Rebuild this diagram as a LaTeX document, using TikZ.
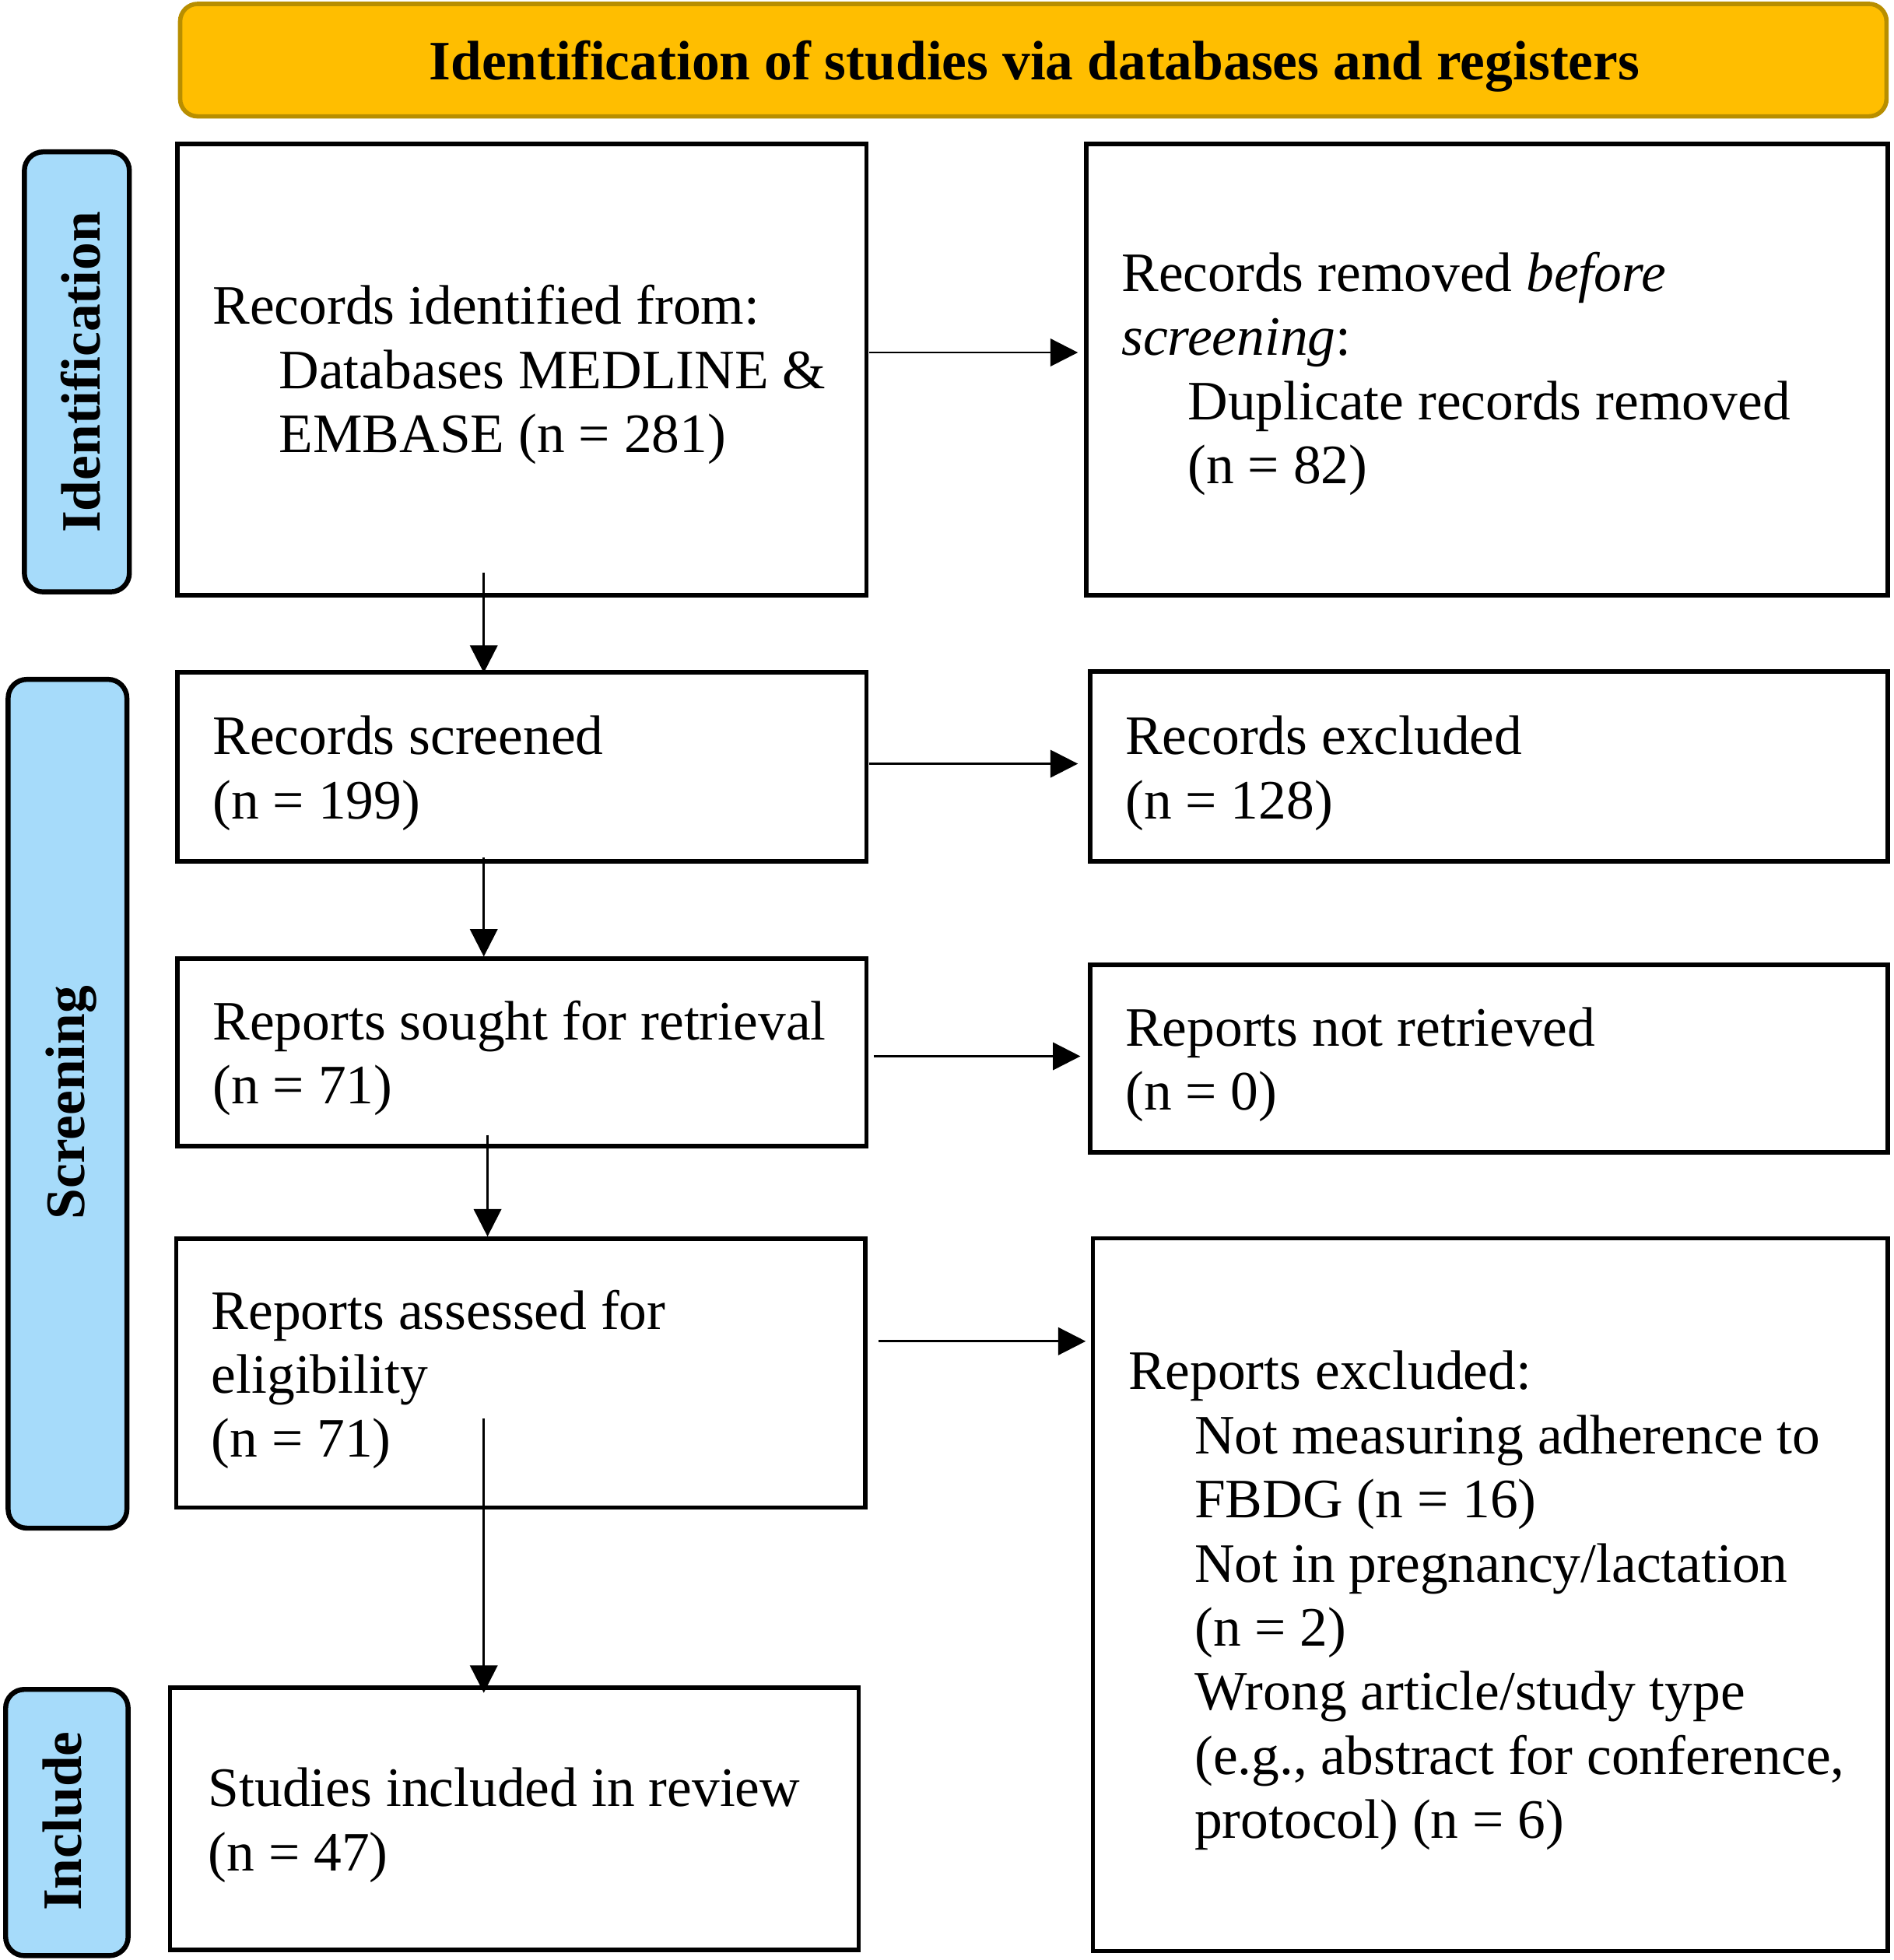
\documentclass[tikz,border=0pt]{standalone}
\usepackage{fontspec}
\setmainfont{Liberation Serif}
\usetikzlibrary{arrows.meta,calc}
\definecolor{gold}{RGB}{255,190,0}
\definecolor{goldline}{RGB}{184,142,0}
\definecolor{sideblue}{RGB}{166,219,250}
\begin{document}
\begin{tikzpicture}[x=1pt,y=-1pt,
  box/.style={draw=black,line width=3.5pt,inner sep=0pt,fill=white},
  txt/.style={anchor=base west,align=left,inner sep=0pt,font=\fontsize{44.5pt}{51.3pt}\selectfont},
  side/.style={draw=black,line width=4pt,fill=sideblue,rounded corners=15pt,inner sep=0pt},
  sidetxt/.style={rotate=90,anchor=base,inner sep=0pt,font=\fontsize{44.5pt}{51.3pt}\selectfont\bfseries},
  titlebox/.style={draw=goldline,line width=3.5pt,fill=gold,rounded corners=14pt,inner sep=0pt},
  arr/.style={line width=1.7pt,-{Triangle[length=22pt,width=22pt]}}]
\useasboundingbox (0,0) rectangle (1514.5,1568);

% title
\node[titlebox,minimum width=1365pt,minimum height=90pt] (title) at (826.6,48.1) {};
\node[anchor=base,inner sep=0pt,font=\fontsize{44.5pt}{51.3pt}\selectfont\bfseries] (ttitle) at (827.5,63.5) {Identification of studies via databases and registers};

% side labels
\node[side,minimum width=84pt,minimum height=352pt] (L1) at (61.5,297.5) {};
\node[sidetxt] (L1t) at (79.7,297.8) {Identification};
\node[side,minimum width=95pt,minimum height=679pt] (L2) at (54,883) {};
\node[sidetxt] (L2t) at (67.6,882) {Screening};
\node[side,minimum width=98pt,minimum height=213pt] (L3) at (53.5,1458) {};
\node[sidetxt] (L3t) at (65.2,1457) {Include};

% boxes
\node[box,minimum width=551pt,minimum height=361pt] (b1) at (417.5,295.5) {};
\node[box,minimum width=641pt,minimum height=361pt] (b2) at (1189.5,295.5) {};
\node[box,minimum width=551pt,minimum height=151pt] (b3) at (417.5,613.5) {};
\node[box,minimum width=638pt,minimum height=152pt] (b4) at (1191,613) {};
\node[box,minimum width=551pt,minimum height=150pt] (b5) at (417.5,842) {};
\node[box,minimum width=638pt,minimum height=150pt] (b6) at (1191,847) {};
\node[box,minimum width=551pt,minimum height=215pt] (b7) at (416.5,1098.5) {};
\node[box,minimum width=636pt,minimum height=570pt] (b8) at (1192.25,1275.75) {};
\node[box,minimum width=551pt,minimum height=210pt] (b9) at (411.5,1455) {};

% texts (anchored at the baseline of the last line)
\node[txt] (t1) at (170,362) {Records identified from:\\\hspace*{53pt}Databases MEDLINE \&\\\hspace*{53pt}EMBASE (n = 281)};
\node[txt] (t2) at (897,387) {Records removed \textit{before}\\\textit{screening}:\\\hspace*{53pt}Duplicate records removed\\\hspace*{53pt}(n = 82)};
\node[txt] (t3) at (170,655) {Records screened\\(n = 199)};
\node[txt] (t4) at (900,655) {Records excluded\\(n = 128)};
\node[txt] (t5) at (170,883) {Reports sought for retrieval\\(n = 71)};
\node[txt] (t6) at (900,888) {Reports not retrieved\\(n = 0)};
\node[txt] (t7) at (169,1165.8) {Reports assessed for\\eligibility\\(n = 71)};
\node[txt] (t8) at (902.4,1470.7) {Reports excluded:\\\hspace*{53pt}Not measuring adherence to\\\hspace*{53pt}FBDG (n = 16)\\\hspace*{53pt}Not in pregnancy/lactation\\\hspace*{53pt}(n = 2)\\\hspace*{53pt}Wrong article/study type\\\hspace*{53pt}(e.g., abstract for conference,\\\hspace*{53pt}protocol) (n = 6)};
\node[txt] (t9) at (166.5,1496.6) {Studies included in review\\(n = 47)};

% connectors
\coordinate (s1) at (387,458);
\draw[arr] (s1) -- ($(s1 |- b3.north)+(0,2)$);
\coordinate (s2) at (695,282);
\draw[arr] (s2) -- ($(s2 -| b2.west)+(-5,0)$);
\coordinate (s3) at (387,686);
\draw[arr] (s3) -- ($(s3 |- b5.north)+(0,0)$);
\coordinate (s4) at (695,611);
\draw[arr] (s4) -- ($(s4 -| b4.west)+(-8,0)$);
\coordinate (s5) at (390,908);
\draw[arr] (s5) -- ($(s5 |- b7.north)+(0,0)$);
\coordinate (s6) at (699,845);
\draw[arr] (s6) -- ($(s6 -| b6.west)+(-6,0)$);
\coordinate (s7) at (703,1073);
\draw[arr] (s7) -- ($(s7 -| b8.west)+(-4,0)$);
\coordinate (s8) at (387,1135);
\draw[arr] (s8) -- ($(s8 |- b9.north)+(0,6)$);
\end{tikzpicture}
\end{document}
